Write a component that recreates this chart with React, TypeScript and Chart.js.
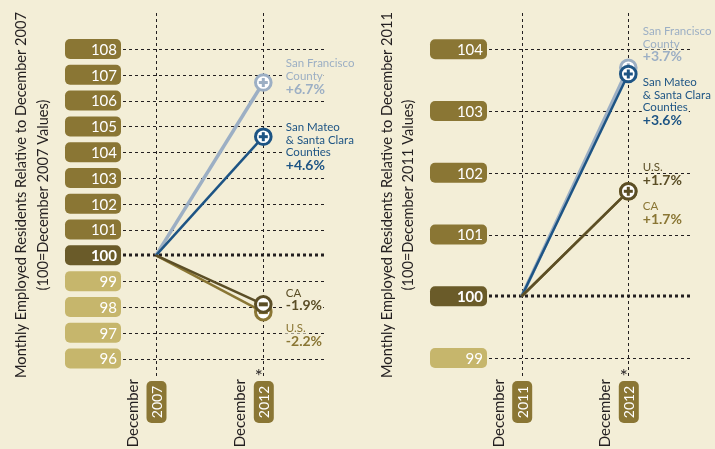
import React, { useEffect, useRef } from 'react';
import { Chart, registerables } from 'chart.js';

Chart.register(...registerables);

const BG = '#F3EED7';
const INK = '#231F20';
const FONT = 'Lato, "Open Sans", sans-serif';

const OLIVE = '#8A7634';
const DARK_OLIVE = '#5B4E26';
const LIGHT_BLUE = '#9CAFC4';
const DARK_BLUE = '#1D5484';
const BOX_UP = '#8A7634';
const BOX_BASE = '#6A5B29';
const BOX_DOWN = '#C6B66C';

// ---------- data: left panel (relative to December 2007) ----------
const leftCategories = ['2007', '2012'];
const leftTicks = [96, 97, 98, 99, 100, 101, 102, 103, 104, 105, 106, 107, 108];
const leftSF = [100, 106.7];
const leftSM = [100, 104.6];
const leftCA = [100, 98.1];
const leftUS = [100, 97.8];

// ---------- data: right panel (relative to December 2011) ----------
const rightCategories = ['2011', '2012'];
const rightTicks = [99, 100, 101, 102, 103, 104];
const rightSF = [100, 103.7];
const rightSM = [100, 103.6];
const rightUS = [100, 101.7];
const rightCA = [100, 101.7];

const xPrefix = 'December';

type Series = {
  name: string[];
  pct: string;
  values: number[];
  color: string;
  width: number;
  sign: '+' | '-';
  labelDy: number;
};

type PanelCfg = {
  width: number;
  categories: string[];
  ticks: number[];
  min: number;
  max: number;
  title: [string, string];
  series: Series[]; // first = drawn on top
  pad: { left: number; right: number; top: number; bottom: number };
  boxX: number;
  boxW: number;
  gridEnd: number;
  titleX: [number, number];
  titleY: number;
  labelDx: number;
};

const leftPanel: PanelCfg = {
  width: 357,
  categories: leftCategories,
  ticks: leftTicks,
  min: 96,
  max: 108,
  title: ['Monthly Employed Residents Relative to December 2007', '(100=December 2007 Values)'],
  series: [
    { name: ['CA'], pct: '-1.9%', values: leftCA, color: DARK_OLIVE, width: 2.5, sign: '-', labelDy: -12 },
    { name: ['U.S.'], pct: '-2.2%', values: leftUS, color: OLIVE, width: 2.5, sign: '-', labelDy: 15.5 },
    { name: ['San Mateo', '& Santa Clara', 'Counties'], pct: '+4.6%', values: leftSM, color: DARK_BLUE, width: 2.5, sign: '+', labelDy: -9.5 },
    { name: ['San Francisco', 'County'], pct: '+6.7%', values: leftSF, color: LIGHT_BLUE, width: 3.5, sign: '+', labelDy: -19.5 },
  ],
  pad: { left: 156, right: 357 - 263.3, top: 49, bottom: 449 - 358.5 },
  boxX: 65,
  boxW: 56,
  gridEnd: 327,
  titleX: [21, 43],
  titleY: 195,
  labelDx: 22.5,
};

const rightPanel: PanelCfg = {
  width: 358,
  categories: rightCategories,
  ticks: rightTicks,
  min: 99,
  max: 104,
  title: ['Monthly Employed Residents Relative to December 2011', '(100=December 2011 Values)'],
  series: [
    { name: ['U.S.'], pct: '+1.7%', values: rightUS, color: DARK_OLIVE, width: 2.5, sign: '+', labelDy: -24.3 },
    { name: ['CA'], pct: '+1.7%', values: rightCA, color: OLIVE, width: 2.5, sign: '+', labelDy: 14.7 },
    { name: ['San Mateo', '& Santa Clara', 'Counties'], pct: '+3.6%', values: rightSM, color: DARK_BLUE, width: 2.5, sign: '+', labelDy: 8 },
    { name: ['San Francisco', 'County'], pct: '+3.7%', values: rightSF, color: LIGHT_BLUE, width: 3.5, sign: '+', labelDy: -37 },
  ],
  pad: { left: 164.7, right: 358 - 271.3, top: 49.3, bottom: 449 - 358 },
  boxX: 73,
  boxW: 57,
  gridEnd: 335,
  titleX: [30, 51],
  titleY: 195,
  labelDx: 14.5,
};

function roundRect(ctx: CanvasRenderingContext2D, x: number, y: number, w: number, h: number, r: number) {
  ctx.beginPath();
  ctx.moveTo(x + r, y);
  ctx.lineTo(x + w - r, y);
  ctx.arcTo(x + w, y, x + w, y + r, r);
  ctx.lineTo(x + w, y + h - r);
  ctx.arcTo(x + w, y + h, x + w - r, y + h, r);
  ctx.lineTo(x + r, y + h);
  ctx.arcTo(x, y + h, x, y + h - r, r);
  ctx.lineTo(x, y + r);
  ctx.arcTo(x, y, x + r, y, r);
  ctx.closePath();
}

function makePlugin(cfg: PanelCfg) {
  const V_TOP = 13;
  const BOX_TOP = 381;
  return {
    id: 'panelDecor',
    beforeDatasetsDraw(chart: any) {
      const ctx: CanvasRenderingContext2D = chart.ctx;
      const xs = chart.scales.x;
      const ys = chart.scales.y;
      ctx.save();
      ctx.strokeStyle = INK;
      ctx.lineWidth = 1;
      ctx.setLineDash([3, 3]);
      cfg.categories.forEach((_, i) => {
        const px = Math.round(xs.getPixelForValue(i)) + 0.5;
        ctx.beginPath();
        ctx.moveTo(px, V_TOP);
        ctx.lineTo(px, BOX_TOP - 2);
        ctx.stroke();
      });
      cfg.ticks.forEach((t) => {
        const py = ys.getPixelForValue(t);
        ctx.beginPath();
        if (t === 100) {
          ctx.lineWidth = 3;
          ctx.moveTo(cfg.boxX + cfg.boxW + 2, Math.round(py));
          ctx.lineTo(cfg.gridEnd, Math.round(py));
        } else {
          ctx.lineWidth = 1;
          ctx.moveTo(cfg.boxX + cfg.boxW + 2, Math.round(py) + 0.5);
          ctx.lineTo(cfg.gridEnd, Math.round(py) + 0.5);
        }
        ctx.setLineDash([3, 3]);
        ctx.stroke();
      });
      ctx.setLineDash([]);
      cfg.ticks.forEach((t) => {
        const py = ys.getPixelForValue(t);
        ctx.fillStyle = t > 100 ? BOX_UP : t === 100 ? BOX_BASE : BOX_DOWN;
        roundRect(ctx, cfg.boxX, py - 10, cfg.boxW, 20, 5);
        ctx.fill();
        ctx.fillStyle = '#FFFFFF';
        ctx.font = (t === 100 ? 'bold ' : '') + '15px ' + FONT;
        ctx.textAlign = 'right';
        ctx.textBaseline = 'middle';
        ctx.fillText(String(t), cfg.boxX + cfg.boxW - 4, py + 1);
      });
      ctx.restore();
    },
    afterDatasetsDraw(chart: any) {
      const ctx: CanvasRenderingContext2D = chart.ctx;
      const xs = chart.scales.x;
      ctx.save();
      for (let i = cfg.series.length - 1; i >= 0; i--) {
        const s = cfg.series[i];
        const pt = chart.getDatasetMeta(i).data[1];
        const cx = pt.x;
        const cy = pt.y;
        ctx.beginPath();
        ctx.arc(cx, cy, 7.8, 0, Math.PI * 2);
        ctx.fillStyle = '#FFFFFF';
        ctx.fill();
        ctx.lineWidth = 3;
        ctx.strokeStyle = s.color;
        ctx.stroke();
        ctx.fillStyle = s.color;
        if (s.sign === '+') {
          ctx.fillRect(cx - 4.5, cy - 1.5, 9, 3);
          ctx.fillRect(cx - 1.5, cy - 4.5, 3, 9);
        } else {
          ctx.fillRect(cx - 4.5, cy - 2, 9, 4);
        }
      }
      cfg.series.forEach((s, i) => {
        const pt = chart.getDatasetMeta(i).data[1];
        const lx = pt.x + cfg.labelDx;
        let ly = pt.y + s.labelDy;
        const lines: { t: string; bold: boolean }[] = s.name.map((n) => ({ t: n, bold: false }));
        lines.push({ t: s.pct, bold: true });
        lines.forEach((ln, k) => {
          if (k > 0) ly += ln.bold ? 13 : 12.5;
          ctx.font = (ln.bold ? 'bold 14px ' : '11.5px ') + FONT;
          const w = ctx.measureText(ln.t).width;
          ctx.fillStyle = BG;
          ctx.fillRect(lx - 1, ly - 6, w + 2, 12);
          ctx.fillStyle = s.color;
          ctx.textAlign = 'left';
          ctx.textBaseline = 'middle';
          ctx.fillText(ln.t, lx, ly + 0.5);
        });
      });
      cfg.categories.forEach((c, i) => {
        const px = xs.getPixelForValue(i);
        ctx.fillStyle = OLIVE;
        roundRect(ctx, px - 9.5, 381, 20, 42, 5);
        ctx.fill();
        ctx.save();
        ctx.translate(px + 0.5, 402);
        ctx.rotate(-Math.PI / 2);
        ctx.fillStyle = '#FFFFFF';
        ctx.font = '14px ' + FONT;
        ctx.textAlign = 'center';
        ctx.textBaseline = 'middle';
        ctx.fillText(c, 0, 1);
        ctx.restore();
        ctx.save();
        ctx.translate(px - 23, 379);
        ctx.rotate(-Math.PI / 2);
        ctx.fillStyle = INK;
        ctx.font = '15px ' + FONT;
        ctx.textAlign = 'right';
        ctx.textBaseline = 'middle';
        ctx.fillText(xPrefix, 0, 0);
        ctx.restore();
        if (i === cfg.categories.length - 1) {
          ctx.fillStyle = INK;
          ctx.font = '19px ' + FONT;
          ctx.textAlign = 'center';
          ctx.textBaseline = 'middle';
          ctx.fillText('*', px - 4.5, 377);
        }
      });
      cfg.title.forEach((t, k) => {
        ctx.save();
        ctx.translate(cfg.titleX[k], cfg.titleY);
        ctx.rotate(-Math.PI / 2);
        ctx.fillStyle = INK;
        ctx.font = '14.6px ' + FONT;
        ctx.textAlign = 'center';
        ctx.textBaseline = 'middle';
        ctx.fillText(t, 0, 0);
        ctx.restore();
      });
      ctx.restore();
    },
  };
}

function Panel({ cfg, left }: { cfg: PanelCfg; left: number }) {
  const ref = useRef<HTMLCanvasElement | null>(null);
  useEffect(() => {
    if (!ref.current) return;
    const chart = new Chart(ref.current, {
      type: 'line',
      data: {
        labels: cfg.categories,
        datasets: cfg.series.map((s) => ({
          label: s.name.join(' '),
          data: s.values,
          borderColor: s.color,
          borderWidth: s.width,
          pointRadius: 0,
          fill: false,
          tension: 0,
          clip: false as any,
        })),
      },
      options: {
        responsive: false,
        animation: false,
        events: [],
        layout: { padding: cfg.pad },
        plugins: { legend: { display: false }, tooltip: { enabled: false } },
        scales: {
          x: { type: 'category', display: false, offset: false },
          y: { type: 'linear', display: false, min: cfg.min, max: cfg.max },
        },
      },
      plugins: [makePlugin(cfg)],
    } as any);
    return () => chart.destroy();
  }, [cfg]);
  return (
    <canvas
      ref={ref}
      width={cfg.width}
      height={449}
      style={{ position: 'absolute', left, top: 0, width: cfg.width, height: 449, display: 'block' }}
    />
  );
}

export default function App() {
  return (
    <div style={{ position: 'fixed', left: 0, top: 0, width: 715, height: 449, background: BG, overflow: 'hidden' }}>
      <Panel cfg={leftPanel} left={0} />
      <Panel cfg={rightPanel} left={357} />
    </div>
  );
}
